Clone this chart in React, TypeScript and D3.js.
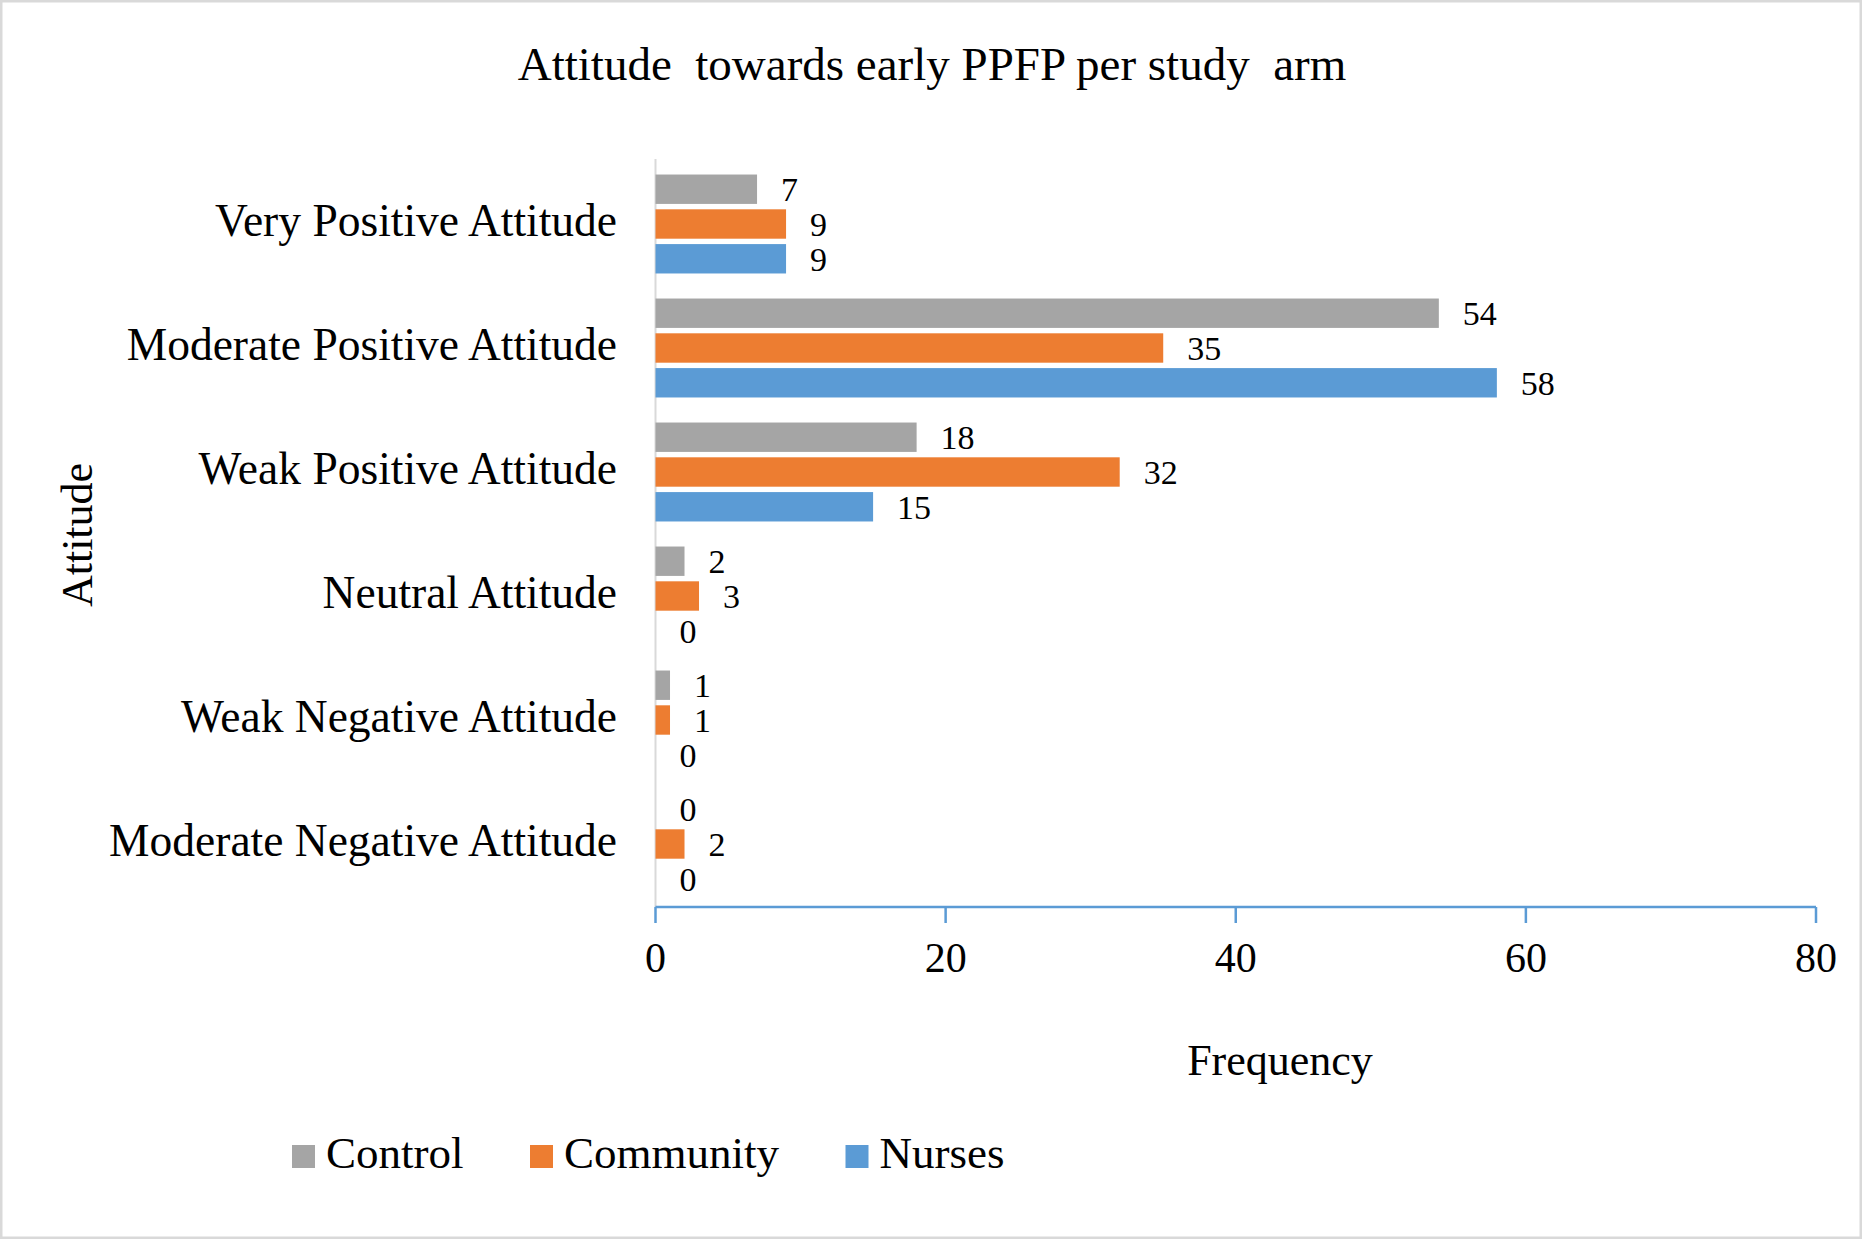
import React from "react";
import * as d3 from "d3";

const categories = [
  "Very Positive Attitude",
  "Moderate Positive Attitude",
  "Weak Positive Attitude",
  "Neutral Attitude",
  "Weak Negative Attitude",
  "Moderate Negative Attitude",
];
const seriesNames = ["Control", "Community", "Nurses"];
const controlValues = [7, 54, 18, 2, 1, 0];
const communityValues = [9, 35, 32, 3, 1, 2];
const nursesValues = [9, 58, 15, 0, 0, 0];
const xTicks = [0, 20, 40, 60, 80];
const colors = ["#a5a5a5", "#ed7d31", "#5b9bd5"];

const W = 1862;
const H = 1239;
const FONT = "'Liberation Serif', 'Times New Roman', serif";

export default function App() {
  const series = [controlValues, communityValues, nursesValues];
  const x = d3.scaleLinear().domain([0, 80]).range([655.5, 1816]);
  const y = d3
    .scaleBand<string>()
    .domain(categories)
    .range([162, 906])
    .paddingInner(0.202)
    .paddingOuter(0.101);
  const inner = d3
    .scaleBand<string>()
    .domain(seriesNames)
    .range([0, y.bandwidth()])
    .paddingInner(0.155)
    .paddingOuter(0);

  const axisY = 907;
  const legendX = [292, 530, 845.5];

  return (
    <svg
      width={W}
      height={H}
      style={{ position: "absolute", left: 0, top: 0, background: "#fff" }}
      fontFamily={FONT}
    >
      <rect x={1} y={1} width={W - 2} height={H - 2} fill="#fff" stroke="#d9d9d9" strokeWidth={3} />

      <text x={932} y={80} textAnchor="middle" fontSize={47} fill="#000" style={{ whiteSpace: "pre" }}>
        {"Attitude  towards early PPFP per study  arm"}
      </text>

      {/* vertical axis line */}
      <line x1={x(0)} x2={x(0)} y1={159} y2={axisY} stroke="#d9d9d9" strokeWidth={2} />

      {/* bars */}
      {categories.map((c, ci) => (
        <g key={c} transform={`translate(0,${y(c)})`}>
          {series.map((vals, si) => {
            const v = vals[ci];
            const by = inner(seriesNames[si])!;
            return (
              <g key={si}>
                {v > 0 && (
                  <rect
                    x={x(0)}
                    y={by}
                    width={x(v) - x(0)}
                    height={inner.bandwidth()}
                    fill={colors[si]}
                  />
                )}
                <text
                  x={x(v) + 24}
                  y={by + inner.bandwidth() / 2 + 12}
                  fontSize={34}
                  fill="#000"
                >
                  {v}
                </text>
              </g>
            );
          })}
          <text x={617} y={y.bandwidth() / 2 + 12} textAnchor="end" fontSize={45.5} fill="#000">
            {c}
          </text>
        </g>
      ))}

      {/* x axis */}
      <line x1={x(0)} x2={x(80)} y1={axisY} y2={axisY} stroke="#5b9bd5" strokeWidth={2.5} />
      {xTicks.map((t) => (
        <g key={t}>
          <line x1={x(t)} x2={x(t)} y1={axisY} y2={axisY + 16} stroke="#5b9bd5" strokeWidth={2.5} />
          <text x={x(t)} y={972} textAnchor="middle" fontSize={42} fill="#000">
            {t}
          </text>
        </g>
      ))}

      <text x={1280} y={1075} textAnchor="middle" fontSize={44} fill="#000">
        Frequency
      </text>
      <text transform="translate(92,535) rotate(-90)" textAnchor="middle" fontSize={44} fill="#000">
        Attitude
      </text>

      {/* legend */}
      {seriesNames.map((n, i) => (
        <g key={n}>
          <rect x={legendX[i]} y={1145} width={23} height={23} fill={colors[i]} />
          <text x={legendX[i] + 34} y={1168} fontSize={45} fill="#000">
            {n}
          </text>
        </g>
      ))}
    </svg>
  );
}
